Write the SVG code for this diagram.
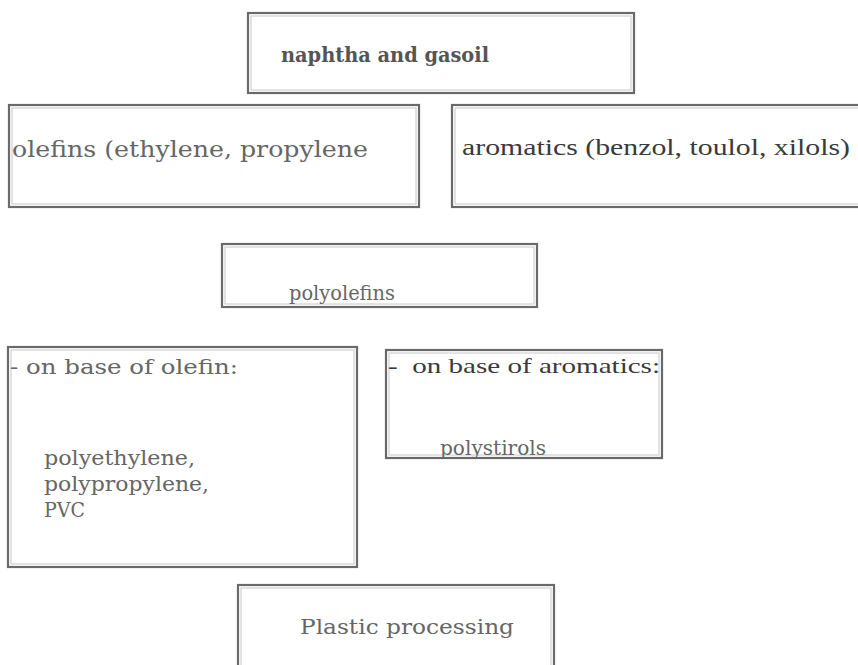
<svg xmlns="http://www.w3.org/2000/svg" width="858" height="665" viewBox="0 0 858 665">
<style>
.box{fill:#fff;stroke:#6a6a6a;stroke-width:2.2}
.inner{fill:none;stroke:#c8c8c8;stroke-width:1}
text{font-family:"DejaVu Serif","Liberation Serif",serif;fill:#4a4a4a}
.b{font-weight:bold;fill:#555}
.t{fill:#666}
.r{font-family:"Liberation Serif",serif;fill:#3a3a3a}
</style>
<rect width="858" height="665" fill="#fff"/>
<g id="connectors"/>
<g id="naphtha">
<rect class="box" x="248" y="13" width="386" height="80"/>
<rect class="inner" x="251" y="16" width="380" height="74"/>
<text class="b" x="281" y="62" font-size="20" textLength="208" lengthAdjust="spacingAndGlyphs">naphtha and gasoil</text>
</g>
<g id="olefins">
<rect class="box" x="9" y="105" width="410" height="102"/>
<rect class="inner" x="12" y="108" width="404" height="96"/>
<text class="t" x="12" y="157" font-size="22" textLength="356" lengthAdjust="spacingAndGlyphs">olefins (ethylene, propylene</text>
</g>
<g id="aromatics">
<rect class="box" x="452" y="105" width="410" height="102"/>
<rect class="inner" x="455" y="108" width="404" height="96"/>
<text class="r" x="462" y="155" font-size="23" textLength="388" lengthAdjust="spacingAndGlyphs">aromatics (benzol, toulol, xilols)</text>
</g>
<g id="polyolefins">
<rect class="box" x="222" y="244" width="315" height="63"/>
<rect class="inner" x="225" y="247" width="309" height="57"/>
<text class="t" x="289" y="300" font-size="20" textLength="106" lengthAdjust="spacingAndGlyphs">polyolefins</text>
</g>
<g id="olefin-base">
<rect class="box" x="8" y="347" width="349" height="220"/>
<rect class="inner" x="11" y="350" width="343" height="214"/>
<text class="t" x="10" y="374" font-size="21" textLength="228" lengthAdjust="spacingAndGlyphs">- on base of olefin:</text>
<text class="t" x="44" y="465" font-size="21" textLength="151" lengthAdjust="spacingAndGlyphs">polyethylene,</text>
<text class="t" x="44" y="491" font-size="21" textLength="165" lengthAdjust="spacingAndGlyphs">polypropylene,</text>
<text class="t" x="44" y="517" font-size="21" textLength="41" lengthAdjust="spacingAndGlyphs">PVC</text>
</g>
<g id="aromatics-base">
<rect class="box" x="386" y="350" width="276" height="108"/>
<rect class="inner" x="389" y="353" width="270" height="102"/>
<text class="r" x="388" y="373" font-size="22" textLength="272" lengthAdjust="spacingAndGlyphs" xml:space="preserve">-  on base of aromatics:</text>
<text class="t" x="440" y="455" font-size="20" textLength="106" lengthAdjust="spacingAndGlyphs">polystirols</text>
</g>
<g id="plastic">
<rect class="box" x="238" y="585" width="316" height="90"/>
<rect class="inner" x="241" y="588" width="310" height="84"/>
<text class="t" x="300" y="634" font-size="21" textLength="214" lengthAdjust="spacingAndGlyphs">Plastic processing</text>
</g>
</svg>
